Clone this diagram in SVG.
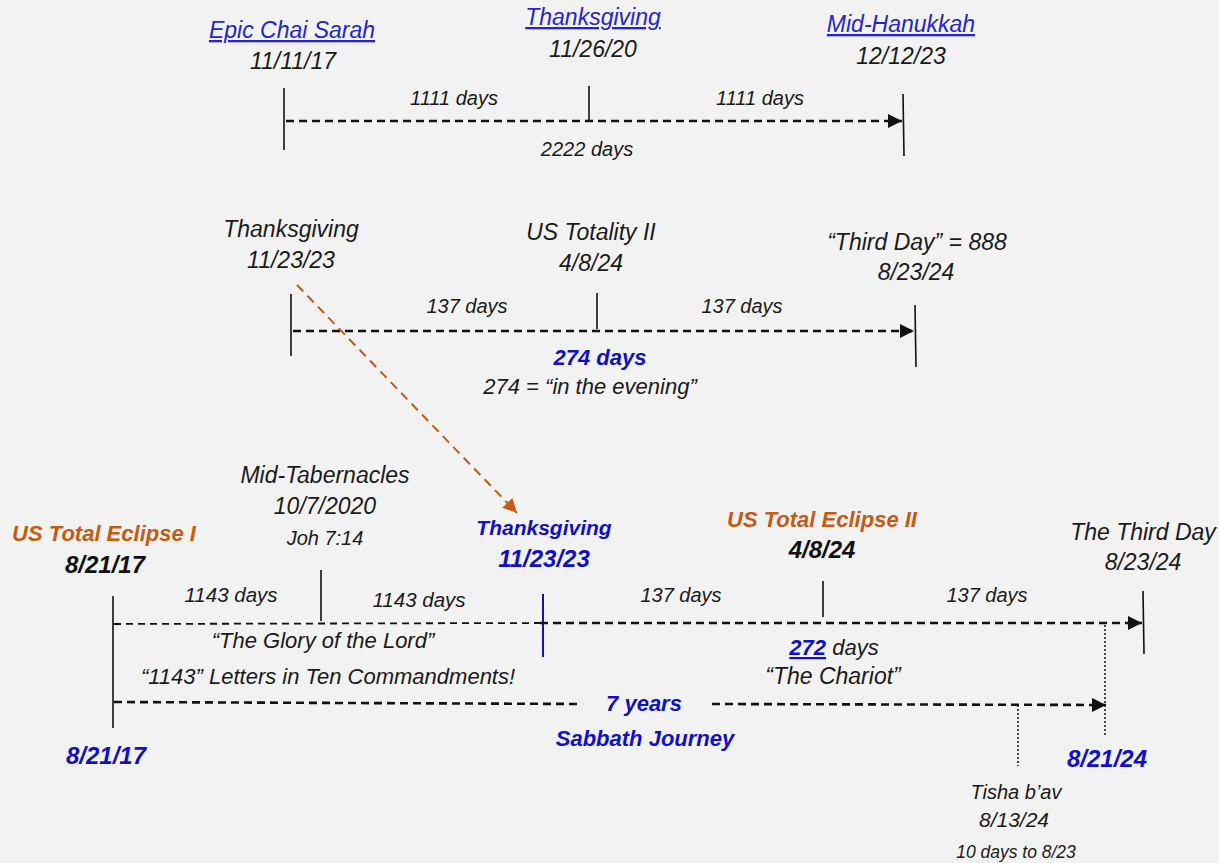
<svg xmlns="http://www.w3.org/2000/svg" width="1219" height="863" viewBox="0 0 1219 863">
<defs>
<style>
text{font-family:"Liberation Sans",Arial,sans-serif;font-style:italic;font-size:21px;fill:#1a1a1a;text-anchor:middle}
.t{font-size:23px}
.s{font-size:20px}
.link{fill:#2424D0;text-decoration:underline;font-size:23px}
.bb{font-weight:bold;fill:#1010C8;font-size:22px}
.bd{font-size:24px}
.bo{font-weight:bold;fill:#C55A11;font-size:22px}
.bk{font-weight:bold;fill:#111;font-size:24px}
.tick{stroke:#111;stroke-width:1.6;fill:none}
.dash{stroke:#111;stroke-width:2.6;stroke-dasharray:8 5;fill:none}
.dashthin{stroke:#111;stroke-width:1.8;stroke-dasharray:7 5;fill:none}
.dot{stroke:#111;stroke-width:1.5;stroke-dasharray:2 2;fill:none}
</style>
<marker id="ah" viewBox="0 0 10 10" refX="10" refY="5" markerUnits="userSpaceOnUse" markerWidth="15" markerHeight="14" orient="auto"><path d="M0,0L10,5L0,10z" fill="#111"/></marker>
<marker id="aho" viewBox="0 0 10 10" refX="10" refY="5" markerUnits="userSpaceOnUse" markerWidth="15" markerHeight="14" orient="auto"><path d="M0,0L10,5L0,10z" fill="#C55A11"/></marker>
</defs>
<rect width="1219" height="863" fill="#F2F2F2"/>

<g id="connectors">
<!-- row 1 -->
<line class="tick" x1="284" y1="88" x2="284" y2="150"/>
<line class="tick" x1="589" y1="86" x2="589" y2="120"/>
<line class="tick" x1="903" y1="94" x2="904" y2="156"/>
<line class="dash" x1="286" y1="121" x2="902" y2="121" marker-end="url(#ah)"/>
<!-- row 2 -->
<line class="tick" x1="291" y1="294" x2="291" y2="356"/>
<line class="tick" x1="597" y1="293" x2="597" y2="329"/>
<line class="tick" x1="915" y1="305" x2="916" y2="367"/>
<line class="dash" x1="293" y1="331" x2="914" y2="331" marker-end="url(#ah)"/>
<line x1="297" y1="285" x2="517" y2="513" stroke="#C55A11" stroke-width="2" stroke-dasharray="9 6" marker-end="url(#aho)"/>
<!-- row 3 -->
<line class="tick" x1="113" y1="596" x2="113" y2="728"/>
<line class="tick" x1="321" y1="570" x2="321" y2="621"/>
<line x1="543" y1="594" x2="543" y2="657" stroke="#1010C8" stroke-width="2"/>
<line class="tick" x1="823" y1="581" x2="823" y2="617"/>
<line class="tick" x1="1143" y1="591" x2="1144" y2="654"/>
<line class="dashthin" x1="114" y1="624" x2="540" y2="623"/>
<line class="dash" x1="540" y1="623" x2="1142" y2="623" marker-end="url(#ah)"/>
<line class="dash" x1="114" y1="702" x2="582" y2="704"/>
<line class="dash" x1="712" y1="704" x2="1106" y2="705" marker-end="url(#ah)"/>
<line class="dot" x1="1105" y1="625" x2="1105" y2="736"/>
<line class="dot" x1="1018" y1="705" x2="1018" y2="766"/>
</g>

<g id="n-epic"><text class="link" x="292" y="38">Epic Chai Sarah</text><text class="t" x="293" y="69">11/11/17</text></g>
<g id="n-thanks1"><text class="link" x="593" y="25">Thanksgiving</text><text class="t" x="593" y="57">11/26/20</text></g>
<g id="n-hanukkah"><text class="link" x="901" y="32">Mid-Hanukkah</text><text class="t" x="901" y="64">12/12/23</text></g>
<g id="l-row1"><text class="s" x="454" y="105">1111 days</text><text class="s" x="760" y="105">1111 days</text><text class="s" x="587" y="156">2222 days</text></g>

<g id="n-thanks2"><text class="t" x="291" y="237">Thanksgiving</text><text class="t" x="291" y="268">11/23/23</text></g>
<g id="n-totality"><text class="t" x="591" y="240">US Totality II</text><text class="t" x="591" y="271">4/8/24</text></g>
<g id="n-thirdday"><text class="t" x="917" y="250">“Third Day” = 888</text><text class="t" x="916" y="280">8/23/24</text></g>
<g id="l-row2"><text class="s" x="467" y="313">137 days</text><text class="s" x="742" y="313">137 days</text><text class="bb" x="600" y="365">274 days</text><text x="590" y="394" style="font-size:22px">274 = “in the evening”</text></g>

<g id="n-eclipse1"><text class="bo" x="104" y="541">US Total Eclipse I</text><text class="bk" x="105" y="573">8/21/17</text></g>
<g id="n-tabernacles"><text class="t" x="325" y="483">Mid-Tabernacles</text><text class="t" x="325" y="514">10/7/2020</text><text class="s" x="325" y="545">Joh 7:14</text></g>
<g id="n-thanks3"><text class="bb" x="544" y="535" style="font-size:21px">Thanksgiving</text><text class="bb bd" x="544" y="567">11/23/23</text></g>
<g id="n-eclipse2"><text class="bo" x="822" y="527">US Total Eclipse II</text><text class="bk" x="822" y="558">4/8/24</text></g>
<g id="n-thethird"><text class="t" x="1143" y="540">The Third Day</text><text class="t" x="1143" y="570">8/23/24</text></g>
<g id="l-row3">
<text x="231" y="602" style="font-size:20.5px">1143 days</text><text x="419" y="607" style="font-size:20.5px">1143 days</text>
<text class="s" x="681" y="602">137 days</text><text class="s" x="987" y="602">137 days</text>
<text x="323" y="648" style="font-size:22px">“The Glory of the Lord”</text>
<text x="328" y="684" style="font-size:22px">“1143” Letters in Ten Commandments!</text>
<text x="834" y="655" style="font-size:22px"><tspan font-weight="bold" fill="#1010C8" text-decoration="underline">272</tspan> days</text>
<text x="833" y="684" style="font-size:23px">“The Chariot”</text>
<text class="bb" x="644" y="711">7 years</text>
<text class="bb" x="645" y="746">Sabbath Journey</text>
</g>
<g id="n-start"><text class="bb bd" x="106" y="764">8/21/17</text></g>
<g id="n-end"><text class="bb bd" x="1107" y="767">8/21/24</text></g>
<g id="n-tisha"><text class="s" x="1016" y="799">Tisha b’av</text><text x="1014" y="827" style="font-size:21px">8/13/24</text><text x="1016" y="858" style="font-size:17.5px">10 days to 8/23</text></g>
</svg>
